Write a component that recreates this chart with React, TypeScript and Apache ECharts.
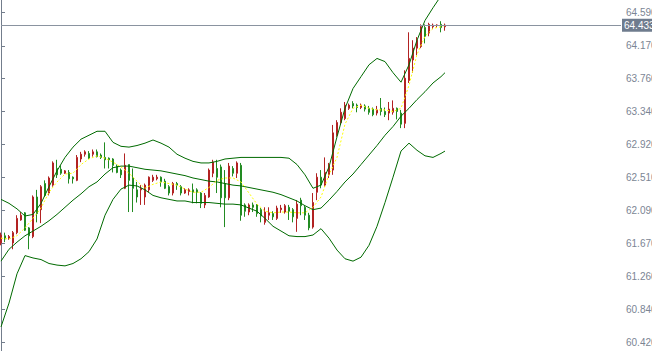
import React, { useEffect, useRef } from "react";
import * as echarts from "echarts";

const priceTicks = [60.42, 60.84, 61.26, 61.67, 62.09, 62.51, 62.92, 63.34, 63.76, 64.17, 64.59];
const lastPrice = 64.433;
const slotCount = 156;

const opens = [61.68, 61.77, 61.74, 61.68, 61.81, 61.97, 62.06, 61.87, 61.76, 62.26,
  62.10, 62.43, 62.31, 62.41, 62.62, 62.61, 62.56, 62.57, 62.51, 62.47,
  62.74, 62.80, 62.81, 62.80, 62.83, 62.79, 62.76, 62.75, 62.74, 62.65,
  62.60, 62.37, 62.67, 62.50, 62.35, 62.35, 62.26, 62.35, 62.47, 62.49,
  62.51, 62.46, 62.39, 62.31, 62.43, 62.39, 62.31, 62.33, 62.35, 62.35,
  62.31, 62.16, 62.26, 62.56, 62.62, 62.64, 62.43, 62.25, 62.62, 62.56,
  62.66, 62.16, 62.07, 62.16, 62.16, 62.10, 61.94, 62.03, 62.05, 61.99,
  62.10, 62.07, 62.13, 62.10, 61.99, 62.22, 62.13, 62.03, 61.88, 62.32,
  62.51, 62.41, 62.54, 62.60, 63.04, 63.20, 63.25, 63.38, 63.44, 63.42,
  63.39, 63.41, 63.38, 63.37, 63.32, 63.38, 63.34, 63.32, 63.33, 63.38,
  63.32, 63.19, 63.73, 63.99, 64.14, 64.16, 64.40, 64.33, 64.41, 64.43,
  64.44, 64.41];

const closes = [61.78, 61.73, 61.76, 61.81, 61.99, 62.03, 61.84, 61.77, 62.26, 62.05,
  62.39, 62.28, 62.50, 62.69, 62.54, 62.56, 62.59, 62.49, 62.49, 62.76,
  62.80, 62.83, 62.75, 62.83, 62.77, 62.76, 62.73, 62.73, 62.66, 62.57,
  62.54, 62.66, 62.47, 62.37, 62.26, 62.37, 62.41, 62.51, 62.51, 62.51,
  62.45, 62.37, 62.31, 62.43, 62.41, 62.31, 62.35, 62.35, 62.32, 62.32,
  62.18, 62.28, 62.60, 62.70, 62.51, 62.25, 62.25, 62.65, 62.56, 62.69,
  62.03, 62.08, 62.16, 62.13, 62.05, 62.02, 62.07, 62.06, 62.01, 62.12,
  62.12, 62.15, 62.08, 62.01, 62.17, 62.15, 62.03, 61.87, 62.19, 62.51,
  62.41, 62.57, 62.65, 63.07, 63.20, 63.33, 63.42, 63.42, 63.41, 63.39,
  63.42, 63.37, 63.33, 63.30, 63.36, 63.34, 63.30, 63.37, 63.38, 63.34,
  63.18, 63.76, 64.01, 64.14, 64.24, 64.41, 64.29, 64.44, 64.43, 64.43,
  64.40, 64.43];

const lows = [61.65, 61.69, 61.72, 61.60, 61.79, 61.96, 61.83, 61.60, 61.74, 61.94,
  61.93, 62.26, 62.28, 62.39, 62.50, 62.54, 62.55, 62.43, 62.43, 62.46,
  62.70, 62.77, 62.74, 62.77, 62.76, 62.74, 62.62, 62.62, 62.57, 62.56,
  62.50, 62.36, 62.07, 62.07, 62.19, 62.16, 62.16, 62.32, 62.45, 62.47,
  62.39, 62.36, 62.28, 62.28, 62.35, 62.28, 62.30, 62.28, 62.18, 62.18,
  62.12, 62.12, 62.25, 62.51, 62.31, 62.13, 61.88, 62.22, 62.52, 62.50,
  61.96, 62.01, 62.03, 62.07, 62.01, 61.94, 61.91, 61.97, 61.97, 61.97,
  62.06, 62.05, 61.97, 61.94, 61.82, 62.03, 61.97, 61.84, 61.86, 62.22,
  62.37, 62.39, 62.50, 62.54, 63.02, 63.17, 63.23, 63.36, 63.38, 63.33,
  63.37, 63.34, 63.30, 63.28, 63.29, 63.29, 63.27, 63.23, 63.30, 63.24,
  63.13, 63.13, 63.70, 63.83, 64.05, 64.14, 64.20, 64.29, 64.38, 64.40,
  64.34, 64.36];

const highs = [61.81, 61.81, 61.78, 61.83, 62.03, 62.07, 62.07, 61.88, 62.28, 62.35,
  62.41, 62.47, 62.52, 62.71, 62.73, 62.66, 62.60, 62.60, 62.52, 62.79,
  62.83, 62.85, 62.84, 62.86, 62.86, 62.81, 62.95, 62.76, 62.75, 62.67,
  62.62, 62.81, 62.67, 62.62, 62.45, 62.41, 62.43, 62.52, 62.54, 62.54,
  62.52, 62.49, 62.41, 62.45, 62.45, 62.41, 62.37, 62.37, 62.43, 62.37,
  62.32, 62.31, 62.62, 62.73, 62.73, 62.67, 62.60, 62.69, 62.65, 62.71,
  62.69, 62.18, 62.18, 62.19, 62.17, 62.12, 62.13, 62.13, 62.08, 62.15,
  62.16, 62.17, 62.16, 62.12, 62.22, 62.25, 62.15, 62.06, 62.31, 62.56,
  62.60, 62.76, 62.69, 63.17, 63.23, 63.38, 63.46, 63.44, 63.47, 63.44,
  63.44, 63.43, 63.41, 63.39, 63.41, 63.51, 63.39, 63.46, 63.48, 63.39,
  63.36, 63.86, 64.34, 64.24, 64.28, 64.44, 64.44, 64.46, 64.45, 64.44,
  64.48, 64.45];

// bar positions at which the indicator lines were read
const lineIndex = [0, 2, 4, 6, 8, 10, 12, 14, 16, 18,
  20, 22, 24, 26, 28, 30, 32, 34, 36, 38,
  40, 42, 44, 46, 48, 50, 52, 54, 56, 58,
  60, 62, 64, 66, 68, 70, 72, 74, 76, 78,
  80, 82, 84, 86, 88, 90, 92, 94, 96, 98,
  100, 102, 104, 106, 108, 110, 111];

const upperBand = [62.23, 62.18, 62.11, 62.02, 62.04, 62.18, 62.39, 62.59, 62.76, 62.89,
  62.99, 63.04, 63.09, 63.09, 62.95, 62.90, 62.89, 62.91, 62.94, 62.98,
  62.94, 62.89, 62.80, 62.75, 62.71, 62.69, 62.69, 62.71, 62.74, 62.75,
  62.76, 62.76, 62.76, 62.76, 62.76, 62.76, 62.75, 62.67, 62.54, 62.37,
  62.41, 62.64, 63.02, 63.38, 63.63, 63.78, 63.93, 64.01, 63.97, 63.83,
  63.71, 63.93, 64.24, 64.49, 64.65, 64.80, 64.87];

const middleBand = [61.45, 61.60, 61.69, 61.77, 61.83, 61.89, 61.96, 62.04, 62.13, 62.22,
  62.30, 62.39, 62.45, 62.55, 62.63, 62.65, 62.65, 62.63, 62.61, 62.60,
  62.59, 62.57, 62.55, 62.53, 62.50, 62.48, 62.46, 62.45, 62.43, 62.41,
  62.40, 62.38, 62.36, 62.34, 62.32, 62.29, 62.25, 62.21, 62.15, 62.10,
  62.12, 62.22, 62.33, 62.45, 62.55, 62.67, 62.79, 62.91, 63.04, 63.15,
  63.28, 63.38, 63.49, 63.59, 63.70, 63.78, 63.83];

const lowerBand = [60.62, 60.92, 61.29, 61.52, 61.49, 61.47, 61.42, 61.40, 61.39, 61.42,
  61.48, 61.57, 61.73, 62.03, 62.23, 62.36, 62.41, 62.40, 62.35, 62.28,
  62.25, 62.23, 62.21, 62.21, 62.19, 62.19, 62.19, 62.18, 62.17, 62.17,
  62.16, 62.12, 62.08, 61.99, 61.89, 61.83, 61.77, 61.76, 61.76, 61.78,
  61.86, 61.74, 61.59, 61.48, 61.45, 61.50, 61.65, 61.89, 62.19, 62.51,
  62.84, 62.94, 62.85, 62.78, 62.76, 62.81, 62.84];

const fastAverage = [61.74, 61.73, 61.77, 61.87, 61.99, 62.12, 62.32, 62.45, 62.55, 62.56,
  62.67, 62.74, 62.78, 62.75, 62.70, 62.64, 62.56, 62.46, 62.37, 62.42,
  62.45, 62.43, 62.41, 62.36, 62.32, 62.32, 62.38, 62.47, 62.50, 62.50,
  62.45, 62.31, 62.17, 62.08, 62.06, 62.07, 62.07, 62.06, 62.06, 62.13,
  62.26, 62.54, 62.76, 63.18, 63.38, 63.42, 63.38, 63.36, 63.36, 63.34,
  63.38, 63.67, 64.06, 64.29, 64.39, 64.41, 64.43];

const AXIS_GREY = "#737d8c";
const LABEL_GREY = "#7b8594";
const BAND_GREEN = "#006a00";
const UP_RED = "#b22222";
const DOWN_GREEN = "#228b22";

export default function App() {
  const ref = useRef<HTMLDivElement>(null);

  useEffect(() => {
    if (!ref.current) return;
    const chart = echarts.init(ref.current, null, { renderer: "svg" });
    const slots = Array.from({ length: slotCount }, (_, i) => String(i));
    const candles = opens.map((o, i) => [o, closes[i], lows[i], highs[i]]);
    const pairs = (vals: number[]) => vals.map((v, k) => [lineIndex[k], v]);
    const band = (vals: number[], z: number) => ({
      type: "line",
      xAxisIndex: 1,
      data: pairs(vals),
      showSymbol: false,
      symbol: "none",
      silent: true,
      z,
      lineStyle: { color: BAND_GREEN, width: 1 },
    });

    chart.setOption({
      animation: false,
      backgroundColor: "#ffffff",
      grid: {
        left: 1,
        right: 31,
        top: 0,
        bottom: 0,
        containLabel: false,
        outerBoundsMode: "none",
      },
      xAxis: [
        { type: "category", data: slots, boundaryGap: false, show: false },
        { type: "value", min: 0, max: slotCount - 1, show: false },
      ],
      yAxis: {
        type: "value",
        position: "right",
        min: 60.315,
        max: 64.748,
        splitLine: { show: false },
        axisLine: { show: true, lineStyle: { color: AXIS_GREY, width: 1 } },
        axisTick: {
          show: true,
          length: 4,
          customValues: priceTicks,
          lineStyle: { color: AXIS_GREY },
        },
        axisLabel: {
          customValues: priceTicks,
          formatter: (v: number) => v.toFixed(3),
          color: LABEL_GREY,
          fontFamily: "Liberation Sans",
          fontSize: 10,
          margin: 5,
        },
      },
      series: [
        {
          type: "candlestick",
          xAxisIndex: 0,
          data: candles,
          barWidth: 2,
          z: 2,
          itemStyle: {
            color: UP_RED,
            color0: DOWN_GREEN,
            borderColor: UP_RED,
            borderColor0: DOWN_GREEN,
            borderWidth: 1,
          },
          markLine: {
            silent: true,
            symbol: ["none", "none"],
            data: [{ yAxis: lastPrice }],
            lineStyle: { color: "#8a93a0", type: "solid", width: 1 },
            label: {
              position: "end",
              formatter: lastPrice.toFixed(3),
              color: "#ffffff",
              backgroundColor: "#6f7c8e",
              padding: [2, 2, 1, 2],
              fontFamily: "Liberation Sans",
              fontSize: 10,
              distance: 1,
            },
          },
        },
        band(upperBand, 3),
        band(middleBand, 3),
        band(lowerBand, 3),
        {
          type: "line",
          xAxisIndex: 1,
          data: pairs(fastAverage),
          showSymbol: false,
          symbol: "none",
          silent: true,
          z: 4,
          lineStyle: { color: "#ffff00", width: 1, type: [2, 2] },
        },
      ],
    });

    return () => chart.dispose();
  }, []);

  return (
    <div
      ref={ref}
      style={{ position: "absolute", left: 0, top: 0, width: 652, height: 351 }}
    />
  );
}
